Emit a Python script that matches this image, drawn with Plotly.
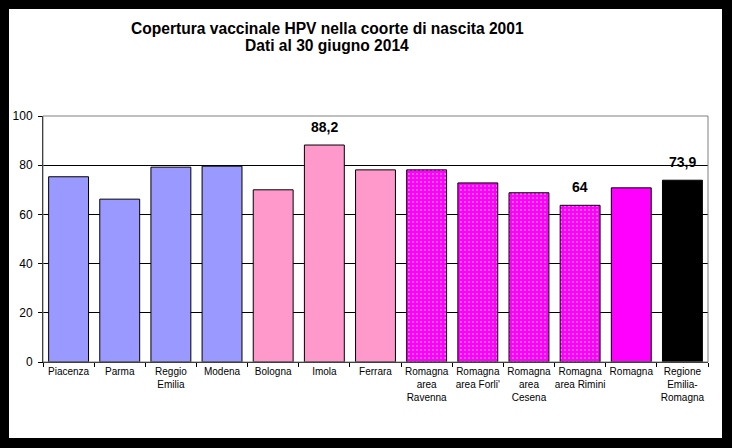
import plotly.graph_objects as go

categories = ["Piacenza", "Parma", "Reggio<br>Emilia", "Modena", "Bologna", "Imola", "Ferrara",
              "Romagna<br>area<br>Ravenna", "Romagna<br>area Forli'", "Romagna<br>area<br>Cesena",
              "Romagna<br>area Rimini", "Romagna", "Regione<br>Emilia-<br>Romagna"]
values = [75.3, 66.2, 79.2, 79.6, 70.0, 88.2, 78.1, 78.1, 72.8, 68.8, 63.7, 70.8, 73.9]
bar_colors = ["#9999FF"] * 4 + ["#FF99CC"] * 3 + ["#FF00FF"] * 5 + ["#000000"]
patterned = [False] * 7 + [True] * 4 + [False] * 2
labels = {5: "88,2", 10: "64", 12: "73,9"}
y_ticks = [0, 20, 40, 60, 80, 100]

title_lines = ["Copertura vaccinale HPV nella coorte di nascita 2001", "Dati al 30 giugno 2014"]

W, H = 732, 448
L, R, T, B = 43, 24, 116, 86
pw, ph = W - L - R, H - T - B

fig = go.Figure()
fig.add_trace(go.Bar(
    x=categories, y=values,
    marker=dict(
        color=bar_colors,
        line=dict(color="black", width=1),
        pattern=dict(
            shape=["." if p else "" for p in patterned],
            fgcolor="white", bgcolor="#FF00FF", size=4, solidity=0.2,
        ),
    ),
    width=0.78,
    hoverinfo="x+y",
))

for i, t in labels.items():
    fig.add_annotation(x=categories[i], y=values[i], text="<b>%s</b>" % t, showarrow=False,
                       yanchor="middle", yshift=18,
                       font=dict(family="Liberation Sans, Arial", size=14, color="black"))

# title as two lines
for line, py in zip(title_lines, [28, 46]):
    fig.add_annotation(xref="paper", yref="paper", x=(327 - L) / pw, y=(H - B - py) / ph,
                       xanchor="center", yanchor="middle", showarrow=False,
                       text="<b>%s</b>" % line,
                       font=dict(family="Liberation Sans, Arial", size=15.6, color="black"))

# white card over black background
x0 = (9 - L) / pw
x1 = (722 - L) / pw
y1 = (H - B - 9) / ph
y0 = (H - B - 438) / ph
fig.add_shape(type="rect", xref="paper", yref="paper", x0=x0, x1=x1, y0=y0, y1=y1,
              fillcolor="white", line=dict(width=0), layer="below")
fig.add_shape(type="rect", xref="paper", yref="paper", x0=0, x1=1, y0=0, y1=1,
              fillcolor="rgba(0,0,0,0)", line=dict(color="#808080", width=1), layer="above")

fig.update_layout(
    width=W, height=H,
    margin=dict(l=L, r=R, t=T, b=B, autoexpand=False),
    paper_bgcolor="black", plot_bgcolor="white",
    showlegend=False,
    font=dict(family="Liberation Sans, Arial", color="black"),
    bargap=0.22,
)
fig.update_xaxes(
    showline=True, linecolor="black", linewidth=1, tickangle=0, automargin=False,
    ticks="outside", tickson="boundaries", ticklen=4, tickcolor="black",
    tickfont=dict(size=10, color="black"), showgrid=False,
)
fig.update_yaxes(
    range=[0, 100], tickvals=y_ticks, showline=True, linecolor="black", linewidth=1,
    ticks="outside", ticklen=4, tickcolor="black", automargin=False,
    showgrid=True, gridcolor="black", gridwidth=1, zeroline=False,
    tickfont=dict(size=12, color="black"), ticklabelstandoff=3,
)

fig.write_html("out.html", config={"displayModeBar": False},
               post_script="document.body.style.margin='0';document.body.style.overflow='hidden';")
